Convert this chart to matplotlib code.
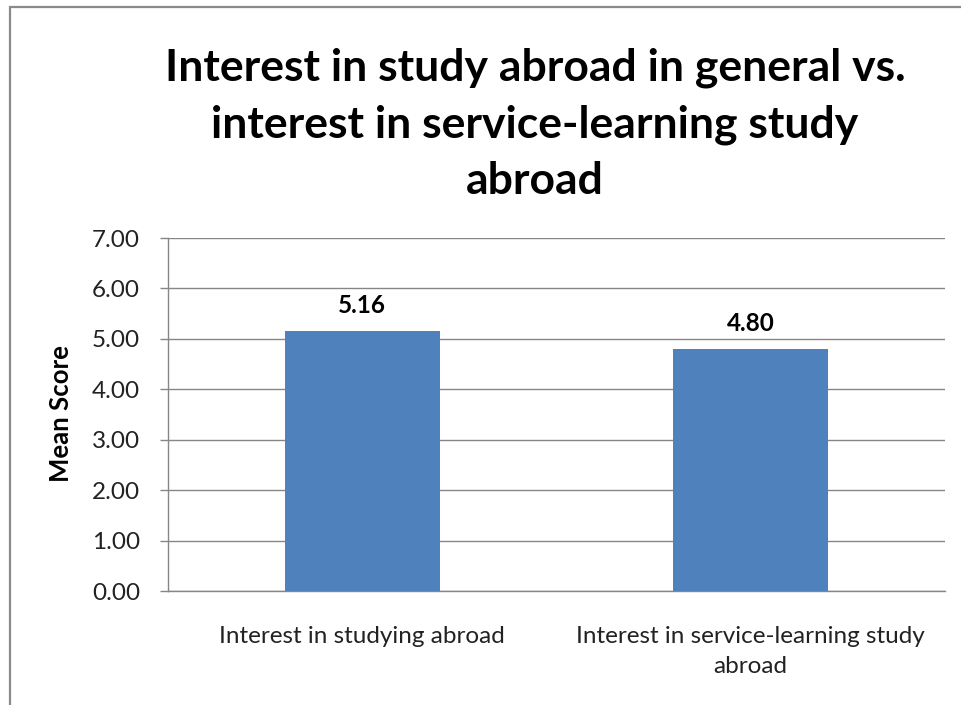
import matplotlib.pyplot as plt
from matplotlib.patches import Rectangle

# Datos del gráfico
categorias = ['Interest in studying abroad',
              'Interest in service-learning study\nabroad']
medias = [5.16, 4.80]
yticks = [0, 1, 2, 3, 4, 5, 6, 7]
titulo = 'Interest in study abroad in general vs.\ninterest in service-learning study\nabroad'

plt.rcParams['font.family'] = ['Lato', 'DejaVu Sans']

fig = plt.figure(figsize=(9.62, 7.05), dpi=100)
ax = fig.add_axes([0.1746, 0.1617, 0.8077, 0.5007])

x = range(len(categorias))
barras = ax.bar(x, medias, width=0.4, color='#4F81BD', zorder=3)
ax.bar_label(barras, labels=[f'{v:.2f}' for v in medias], padding=10,
             fontsize=17.5, fontweight='bold', color='black')

ax.set_xlim(-0.5, 1.5)
ax.set_ylim(0, 7)
ax.set_yticks(yticks)
ax.set_yticklabels([f'{v:.2f}' for v in yticks], fontsize=17.5, color='#222222')
ax.set_xticks(list(x))
ax.set_xticklabels(categorias, fontsize=17.5, color='#222222',
                   multialignment='center', linespacing=1.55)
ax.tick_params(axis='x', length=0, pad=25)
ax.tick_params(axis='y', length=6, color='#868686', width=1, pad=14)
ax.grid(axis='y', color='#868686', linewidth=1, zorder=0)
for lado in ['top', 'right']:
    ax.spines[lado].set_visible(False)
for lado in ['left', 'bottom']:
    ax.spines[lado].set_color('#868686')
    ax.spines[lado].set_linewidth(1)

fig.text(0.063, 0.413, 'Mean Score', rotation=90, ha='center', va='center',
         fontsize=18.5, fontweight='bold')
fig.text(0.556, 0.933, titulo, ha='center', va='top', fontsize=32,
         fontweight='bold', linespacing=1.5)

# marco del área del gráfico
fig.patches.append(Rectangle((10 / 962, -0.1), 1.2, 1.1 - 7 / 705,
                             transform=fig.transFigure, fill=False,
                             edgecolor='#8a8a8a', linewidth=1.6))

fig.savefig('out.png', dpi=100)
